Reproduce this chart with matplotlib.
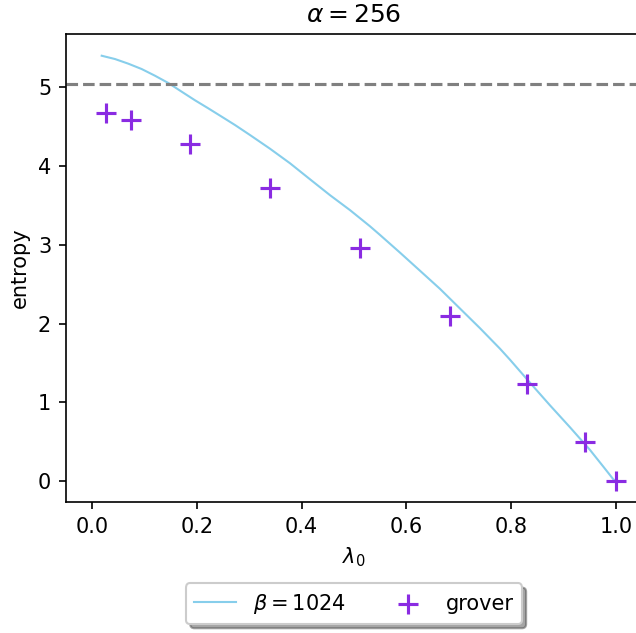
import numpy as np
from matplotlib import pyplot as plt

# curve for beta = 1024
lam_curve = [0.0185, 0.0439, 0.0693, 0.0948, 0.1202, 0.1456, 0.1712, 0.1966,
             0.2219, 0.2475, 0.2729, 0.3015, 0.3397, 0.3779, 0.4160, 0.4542,
             0.4924, 0.5305, 0.5496, 0.5878, 0.6260, 0.6641, 0.7023, 0.7405,
             0.7786, 0.7977, 0.8359, 0.8740, 0.9122, 0.9504, 0.9758, 0.9948, 1.0]
ent_curve = [5.401, 5.359, 5.300, 5.232, 5.147, 5.055, 4.944, 4.835,
             4.733, 4.627, 4.521, 4.394, 4.220, 4.035, 3.832, 3.630,
             3.440, 3.235, 3.125, 2.900, 2.670, 2.440, 2.190, 1.940,
             1.680, 1.540, 1.248, 0.961, 0.682, 0.394, 0.182, 0.022, 0.0]

# grover points
lam_grover = [0.0267, 0.0738, 0.187, 0.340, 0.511, 0.683, 0.831, 0.940, 1.0]
ent_grover = [4.679, 4.585, 4.276, 3.717, 2.963, 2.096, 1.228, 0.492, 0.0]

ref_level = 5.045

DPI = 150
W, H = 636, 633
fig = plt.figure(figsize=(W / DPI, H / DPI), dpi=DPI)
x0, x1 = 65.8, 642.2
ax = fig.add_axes([x0 / W, 131 / H, (x1 - x0) / W, (502 - 34) / H])

ax.plot(lam_curve, ent_curve, color="skyblue", lw=1.0, label=r"$\beta = 1024$")
ax.scatter(lam_grover, ent_grover, marker="+", s=90, color="blueviolet",
           linewidths=1.5, label="grover", zorder=3)
ax.axhline(ref_level, color="gray", linestyle="--", lw=1.5)

ax.set_xlim(-0.05, 1.05)
ax.set_ylim(-0.267, 5.677)
ax.set_xticks([0.0, 0.2, 0.4, 0.6, 0.8, 1.0])
ax.set_yticks([0, 1, 2, 3, 4, 5])
ax.set_xlabel(r"$\lambda_0$")
ax.set_ylabel("entropy")
ax.set_title(r"$\alpha = 256$")

ax.legend(loc="upper center", bbox_to_anchor=(354 / W, 1 - 573 / H),
          bbox_transform=fig.transFigure, ncol=2, shadow=True)

plt.savefig("out.png", dpi=DPI)
